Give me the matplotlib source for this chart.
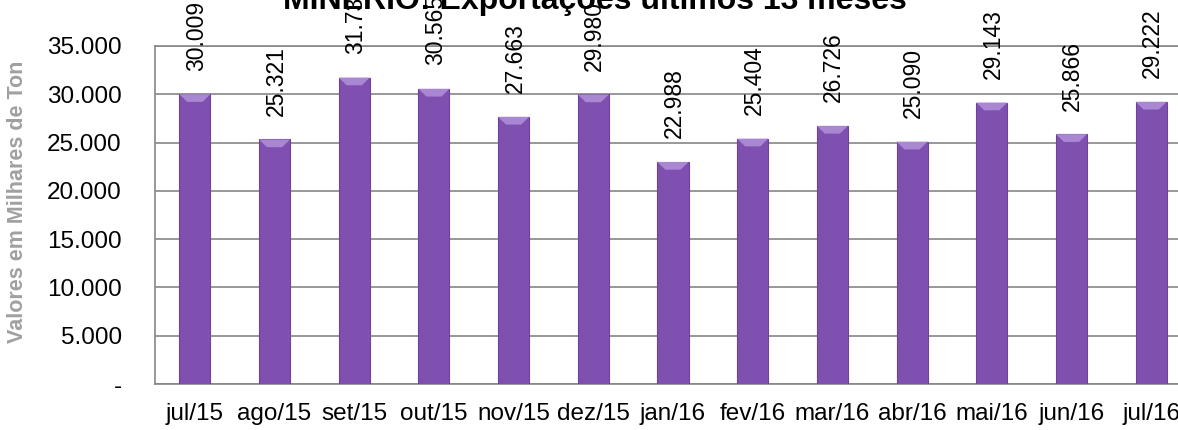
import matplotlib
matplotlib.use("Agg")
import matplotlib.pyplot as plt
from matplotlib.patches import Polygon
from matplotlib.ticker import FuncFormatter

months = ["jul/15", "ago/15", "set/15", "out/15", "nov/15", "dez/15", "jan/16",
          "fev/16", "mar/16", "abr/16", "mai/16", "jun/16", "jul/16"]
values = [30009, 25321, 31731, 30565, 27663, 29980, 22988,
          25404, 26726, 25090, 29143, 25866, 29222]
value_labels = ["30.009", "25.321", "31.731", "30.565", "27.663", "29.980", "22.988",
                "25.404", "26.726", "25.090", "29.143", "25.866", "29.222"]
yticks = [0, 5000, 10000, 15000, 20000, 25000, 30000, 35000]

fig = plt.figure(figsize=(11.78, 4.30), dpi=100)
ax = fig.add_axes([155 / 1178, 46 / 430, 1036 / 1178, 338 / 430])

bar_color = "#8050B1"
light = "#A987D3"
width = 0.39
x = list(range(len(months)))
bars = ax.bar(x, values, width=width, color=bar_color, edgecolor="#6E4299",
              linewidth=0.8, zorder=3)

# bevel highlight on top of each bar (derived from each bar's geometry)
bdx = 0.1
bdy = 800
for b in bars:
    x0 = b.get_x()
    x1 = x0 + b.get_width()
    top = b.get_height()
    poly = Polygon([(x0, top), (x1, top), (x1 - bdx, top - bdy), (x0 + bdx, top - bdy)],
                   closed=True, facecolor=light, edgecolor="none", zorder=4)
    ax.add_patch(poly)

for xi, v, lab in zip(x, values, value_labels):
    ax.annotate(lab, (xi, v), xytext=(1, 17), textcoords="offset points",
                rotation=90, ha="center", va="bottom", fontsize=16.5,
                family="Liberation Sans", color="black", annotation_clip=False)

ax.set_xlim(-0.5, 12.5)
ax.set_ylim(0, 35000)
ax.set_yticks(yticks)
ax.yaxis.set_major_formatter(FuncFormatter(
    lambda v, p: "-" if v == 0 else f"{int(v):,}".replace(",", ".")))
ax.set_xticks(x)
ax.set_xticklabels(months, family="Liberation Sans", fontsize=17.5)
for t in ax.get_yticklabels():
    t.set_family("Liberation Sans")
    t.set_fontsize(17.5)
ax.tick_params(axis="y", length=0, pad=24)
ax.tick_params(axis="x", length=0, pad=14)
ax.grid(axis="y", color="#868686", linewidth=1.2, zorder=0)
for s in ["left", "bottom", "top"]:
    ax.spines[s].set_color("#868686")
    ax.spines[s].set_linewidth(1.2)
ax.spines["right"].set_visible(False)

fig.text(18 / 1178, 1 - 202 / 430, "Valores em Milhares de Ton", rotation=90,
         ha="center", va="center", fontsize=15.5, fontweight="bold",
         color="#A0A0A0", family="Liberation Sans")

fig.text(595 / 1178, 1 - 9 / 430, "MINÉRIO: Exportações últimos 13 meses",
         ha="center", va="baseline", fontsize=23, fontweight="bold",
         family="Liberation Sans", color="black")

fig.savefig("out.png", dpi=100)
